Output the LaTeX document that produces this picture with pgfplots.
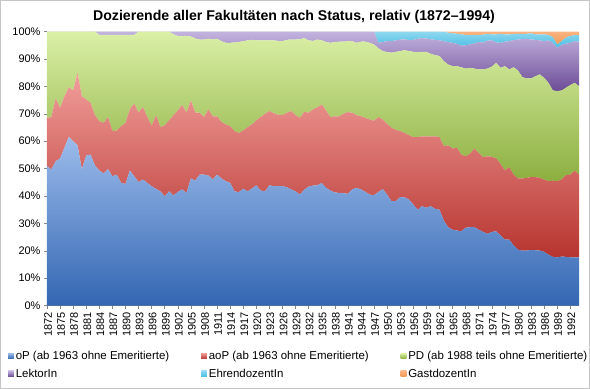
\documentclass[border=0pt]{standalone}
\usepackage{pgfplots}
\pgfplotsset{compat=1.18}
\usepackage{pgfplotstable}
\usepackage{fontspec}
\setmainfont{Liberation Sans}
\definecolor{oPtop}{HTML}{9CBCEB}\definecolor{oPbot}{HTML}{3366B2}
\definecolor{aoPtop}{HTML}{F19E9B}\definecolor{aoPbot}{HTML}{B7342F}
\definecolor{PDtop}{HTML}{DAF0A6}\definecolor{PDbot}{HTML}{8CAF40}
\definecolor{Lektop}{HTML}{C3B3DF}\definecolor{Lekbot}{HTML}{6C4C96}
\definecolor{Ehrtop}{HTML}{8FD8EF}\definecolor{Ehrbot}{HTML}{4BBEE3}
\definecolor{Gasttop}{HTML}{F9B381}\definecolor{Gastbot}{HTML}{F39A55}
\definecolor{cBlue}{HTML}{4F81BD}\definecolor{cRed}{HTML}{C0504D}
\definecolor{cGreen}{HTML}{9BBB59}\definecolor{cPurple}{HTML}{8064A2}
\definecolor{cCyan}{HTML}{4BACC6}\definecolor{cOrange}{HTML}{F79646}
\definecolor{axgray}{HTML}{868686}
\pgfplotstableread{
year oP aoP PD Lek Ehr Gast
1872 50.9 17.6 31.5 0 0 0
1873 49.7 19.1 31.2 0 0 0
1874 52.7 22.9 24.4 0 0 0
1875 53.7 18.5 27.8 0 0 0
1876 57.6 18.8 23.6 0 0 0
1877 61.6 18.1 20.3 0 0 0
1878 60.0 18.5 21.5 0 0 0
1879 58.5 26.5 15.0 0 0 0
1880 49.7 26.7 23.6 0 0 0
1881 54.8 20.4 24.8 0 0 0
1882 55.1 18.9 26.0 0 0 0
1883 51.1 18.4 30.5 0 0 0
1884 49.3 18.0 31.5 1.2 0 0
1885 48.2 18.5 32.1 1.2 0 0
1886 49.8 19.0 30.0 1.2 0 0
1887 47.2 16.5 35.1 1.2 0 0
1888 47.8 16.1 34.9 1.2 0 0
1889 44.8 20.7 33.3 1.2 0 0
1890 44.4 22.3 32.1 1.2 0 0
1891 49.3 22.3 27.2 1.2 0 0
1892 47.2 26.6 25.0 1.2 0 0
1893 45.1 25.3 29.6 0 0 0
1894 46.0 26.5 27.5 0 0 0
1895 44.8 24.0 31.2 0 0 0
1896 43.6 22.1 34.3 0 0 0
1897 42.6 26.9 30.5 0 0 0
1898 41.7 23.4 34.9 0 0 0
1899 39.9 25.9 34.2 0 0 0
1900 41.7 25.9 32.4 0 0 0
1901 40.2 29.3 29.5 1.0 0 0
1902 41.5 29.7 27.2 1.6 0 0
1903 42.4 30.8 25.2 1.6 0 0
1904 41.1 29.3 28.0 1.6 0 0
1905 46.4 28.5 23.3 1.8 0 0
1906 45.6 24.8 27.1 2.5 0 0
1907 47.8 22.6 26.7 2.9 0 0
1908 47.8 21.0 28.3 2.9 0 0
1909 47.5 24.1 25.8 2.6 0 0
1910 46.0 23.1 28.0 2.9 0 0
1911 47.8 21.3 28.3 2.6 0 0
1912 46.4 20.6 29.5 3.5 0 0
1913 45.4 20.7 29.8 4.1 0 0
1914 44.8 20.7 30.4 4.1 0 0
1915 41.7 22.0 32.3 4.0 0 0
1916 41.4 21.6 33.2 3.8 0 0
1917 42.7 21.2 32.6 3.5 0 0
1918 41.7 23.4 31.7 3.2 0 0
1919 42.7 23.4 30.9 3.0 0 0
1920 43.9 23.7 29.2 3.2 0 0
1921 42.0 26.8 28.0 3.2 0 0
1922 41.7 28.3 26.8 3.2 0 0
1923 43.9 27.1 25.8 3.2 0 0
1924 43.6 26.6 26.6 3.2 0 0
1925 43.6 26.1 26.9 3.4 0 0
1926 43.6 25.9 27.0 3.5 0 0
1927 43.2 27.2 26.6 3.0 0 0
1928 42.4 28.6 26.1 2.9 0 0
1929 41.7 27.8 27.6 2.9 0 0
1930 40.5 28.0 28.7 2.8 0 0
1931 42.3 28.4 26.9 2.4 0 0
1932 43.4 27.0 26.4 3.2 0 0
1933 43.8 27.8 25.0 3.4 0 0
1934 43.9 28.5 24.7 2.9 0 0
1935 44.7 28.7 23.4 3.2 0 0
1936 43.0 28.2 25.0 3.8 0 0
1937 42.0 26.8 27.1 4.1 0 0
1938 41.3 27.8 27.1 3.8 0 0
1939 41.1 28.0 27.2 3.7 0 0
1940 41.0 29.0 26.3 3.7 0 0
1941 40.8 29.8 25.9 3.5 0 0
1942 42.4 28.0 26.1 3.5 0 0
1943 43.0 26.5 26.4 4.1 0 0
1944 42.4 26.7 27.2 3.7 0 0
1945 41.5 27.0 27.8 3.7 0 0
1946 40.5 27.4 28.0 4.1 0 0
1947 40.3 27.2 27.8 4.7 0 0
1948 41.5 27.3 25.1 2.0 4.1 0
1949 42.5 25.4 25.0 3.3 3.8 0
1950 40.5 25.8 26.2 4.0 3.5 0
1951 38.1 26.8 27.4 4.2 3.5 0
1952 38.1 26.0 28.5 4.2 3.2 0
1953 39.6 24.1 29.2 4.2 2.9 0
1954 39.5 23.5 30.2 4.0 2.8 0
1955 38.7 23.5 30.7 4.0 3.1 0
1956 36.9 24.6 31.1 4.4 3.0 0
1957 35.0 26.5 31.0 4.9 2.6 0
1958 36.3 25.5 30.8 5.0 2.4 0
1959 35.7 26.1 30.8 4.9 2.5 0
1960 36.3 25.4 30.2 5.3 2.8 0
1961 35.3 26.5 29.6 5.6 3.0 0
1962 35.0 26.5 29.6 5.7 3.2 0
1963 31.0 27.2 31.0 7.3 3.5 0
1964 28.6 29.9 29.5 8.2 3.4 0.4
1965 27.7 29.6 30.1 8.5 3.5 0.6
1966 27.4 30.2 29.8 8.1 3.7 0.8
1967 27.1 28.0 31.9 7.9 4.1 1.0
1968 28.4 26.1 32.0 8.5 3.8 1.2
1969 28.6 26.8 31.4 8.5 3.4 1.3
1970 28.6 28.7 29.2 9.2 3.1 1.2
1971 27.7 28.0 30.5 10.0 2.5 1.3
1972 26.9 27.3 32.0 9.8 2.9 1.1
1973 26.2 28.3 32.0 10.2 2.5 0.8
1974 26.9 27.4 32.9 9.6 2.2 1.0
1975 27.1 26.6 34.9 7.4 3.0 1.0
1976 25.6 26.1 35.1 9.1 3.3 0.8
1977 24.1 25.2 38.1 8.9 2.7 1.0
1978 24.1 26.4 35.7 10.3 2.5 1.0
1979 22.0 25.8 39.2 9.9 2.2 0.9
1980 20.4 26.0 39.4 11.3 2.1 0.8
1981 20.1 26.3 37.0 13.9 1.9 0.8
1982 20.1 26.5 36.3 14.5 1.8 0.8
1983 20.3 26.6 36.0 14.2 2.3 0.6
1984 20.2 26.7 36.8 13.3 2.0 1.0
1985 20.1 26.5 37.8 12.4 2.2 1.0
1986 19.6 26.4 37.1 13.4 2.5 1.0
1987 18.6 26.8 35.9 15.5 2.0 1.2
1988 17.8 27.8 32.9 17.4 2.1 2.0
1989 17.6 27.8 32.9 15.8 1.2 4.7
1990 17.9 28.1 32.5 16.6 1.4 3.5
1991 17.8 29.8 31.9 16.1 2.2 2.2
1992 17.6 30.2 32.7 15.4 2.5 1.6
1993 17.6 31.7 32.0 15.2 2.2 1.3
1994 17.6 30.2 32.3 16.2 2.4 1.3
}\data
\begin{document}
\begin{tikzpicture}
\useasboundingbox (0,0) rectangle (590bp,389bp);
\draw[gray!45, line width=1bp] (0.5bp,0.5bp) rectangle (589.5bp,388.5bp);
\node[anchor=base, font=\fontsize{14.2}{16}\selectfont\bfseries] at (294bp,368bp) {Dozierende aller Fakultäten nach Status, relativ (1872–1994)};
\begin{axis}[
  at={(47bp,83.4bp)}, anchor=south west,
  scale only axis, width=532bp, height=274bp,
  xmin=1872, xmax=1994, ymin=0, ymax=100,
  stack plots=y,
  axis lines*=left,
  axis line style={axgray, line width=0.8bp},
  /pgf/number format/assume math mode=true,
  /pgf/number format/1000 sep={},
  xtick={1872,1875,...,1992},
  minor x tick num=2,
  ytick={0,10,...,100},
  yticklabels={0\%,10\%,20\%,30\%,40\%,50\%,60\%,70\%,80\%,90\%,100\%},
  tick align=outside,
  major tick length=3bp, minor tick length=3bp,
  tick style={axgray, line width=0.5bp},
  ticklabel style={font=\fontsize{11}{13}\selectfont},
  xticklabel style={rotate=90, anchor=east, xshift=0bp, yshift=-1bp},
  legend columns=3,
  legend cell align=left,
  legend style={at={(-0.0733,-0.158)}, anchor=north west, draw=none, fill=none,
    inner sep=0pt, font=\fontsize{11.5}{13}\selectfont, row sep=4bp,
    /tikz/every even column/.append style={column sep=30bp}},
]
\addplot[draw=none, top color=oPtop, bottom color=oPbot,
  legend image code/.code={\fill[cBlue] (0bp,-2.8bp) rectangle (5.6bp,2.8bp);}]
  table[x=year, y=oP] {\data} \closedcycle;
\addlegendentry{oP (ab 1963 ohne Emeritierte)}
\addplot[draw=none, top color=aoPtop, bottom color=aoPbot,
  legend image code/.code={\fill[cRed] (0bp,-2.8bp) rectangle (5.6bp,2.8bp);}]
  table[x=year, y=aoP] {\data} \closedcycle;
\addlegendentry{aoP (ab 1963 ohne Emeritierte)}
\addplot[draw=none, top color=PDtop, bottom color=PDbot,
  legend image code/.code={\fill[cGreen] (0bp,-2.8bp) rectangle (5.6bp,2.8bp);}]
  table[x=year, y=PD] {\data} \closedcycle;
\addlegendentry{PD (ab 1988 teils ohne Emeritierte)}
\addplot[draw=none, top color=Lektop, bottom color=Lekbot,
  legend image code/.code={\fill[cPurple] (0bp,-2.8bp) rectangle (5.6bp,2.8bp);}]
  table[x=year, y=Lek] {\data} \closedcycle;
\addlegendentry{LektorIn}
\addplot[draw=none, top color=Ehrtop, bottom color=Ehrbot,
  legend image code/.code={\fill[cCyan] (0bp,-2.8bp) rectangle (5.6bp,2.8bp);}]
  table[x=year, y=Ehr] {\data} \closedcycle;
\addlegendentry{EhrendozentIn}
\addplot[draw=none, top color=Gasttop, bottom color=Gastbot,
  legend image code/.code={\fill[cOrange] (0bp,-2.8bp) rectangle (5.6bp,2.8bp);}]
  table[x=year, y=Gast] {\data} \closedcycle;
\addlegendentry{GastdozentIn}
\end{axis}
\end{tikzpicture}
\end{document}
